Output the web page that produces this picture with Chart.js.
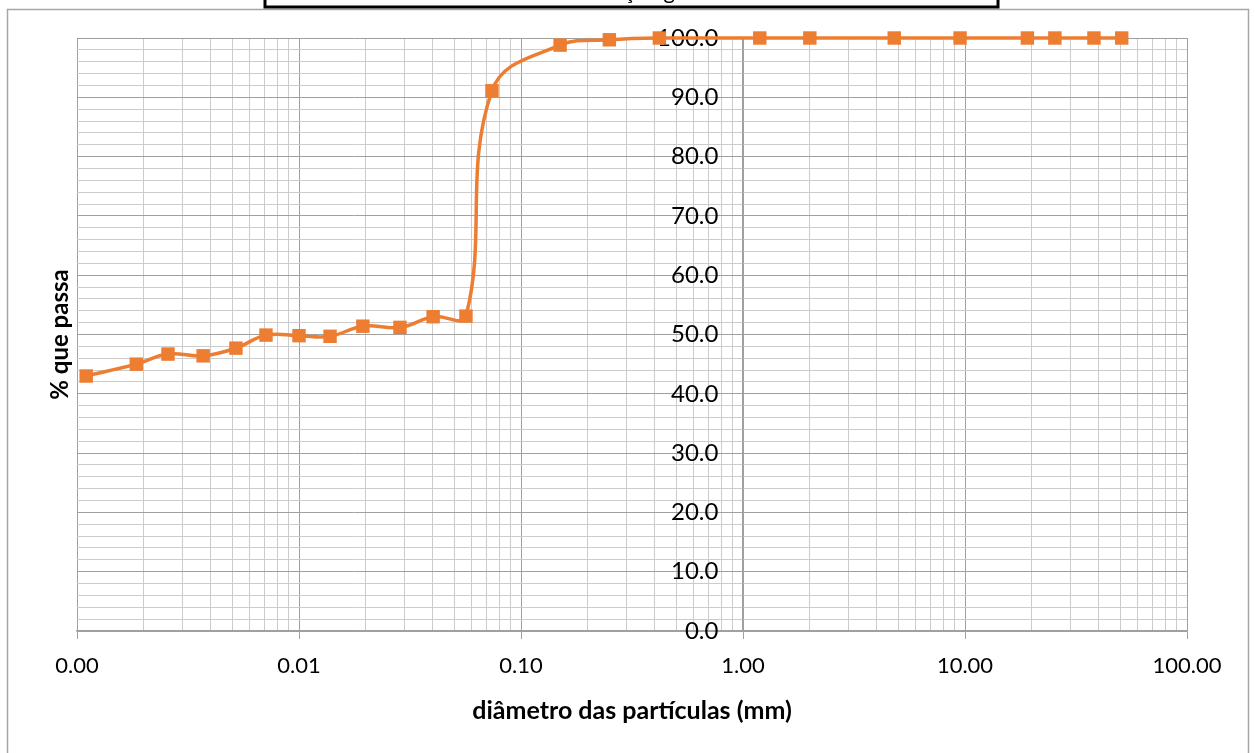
<!DOCTYPE html>
<html>
<head>
<meta charset="utf-8">
<script src="https://cdn.jsdelivr.net/npm/chart.js@4"></script>
<style>
  html, body { margin: 0; padding: 0; background: #fff; overflow: hidden; }
  #wrap { position: absolute; left: 0; top: -40px; width: 1255px; height: 793px; }
</style>
</head>
<body>
<div id="wrap"><canvas id="granChart"></canvas></div>
<script>
// diâmetros (mm) e % que passa
const diametros = [0.0011, 0.00185, 0.00257, 0.0037, 0.0052, 0.0071, 0.0100, 0.0138, 0.0194, 0.0285, 0.0402, 0.0565,
  0.074, 0.15, 0.25, 0.42, 1.19, 2.0, 4.8, 9.5, 19.1, 25.4, 38.1, 50.8];
const passa = [43.0, 45.0, 46.7, 46.4, 47.7, 49.9, 49.8, 49.7, 51.4, 51.2, 53.0, 53.1,
  91.1, 98.8, 99.7, 100, 100, 100, 100, 100, 100, 100, 100, 100];
const decadas = [0.001, 0.01, 0.1, 1, 10, 100];

const tituloGrafico = 'Curva de distribuição granulométrica';
const tituloX = 'diâmetro das partículas (mm)';
const tituloY = '% que passa';

function isDecade(v) {
  const l = Math.log10(v);
  return Math.abs(l - Math.round(l)) < 1e-9;
}

// outer border + title box (mostly cropped at the top)
const framePlugin = {
  id: 'frame',
  beforeDraw(chart) {
    const ctx = chart.ctx;
    ctx.save();
    ctx.strokeStyle = '#a6a6a6';
    ctx.lineWidth = 1.5;
    ctx.strokeRect(7.5, 49.5, 1241, 800);
    ctx.restore();
  },
  afterDraw(chart) {
    const ctx = chart.ctx;
    ctx.save();
    ctx.fillStyle = '#fff';
    ctx.fillRect(265, 5, 733, 42);
    ctx.strokeStyle = '#000';
    ctx.lineWidth = 3;
    ctx.strokeRect(265, 5, 733, 42);
    ctx.fillStyle = '#000';
    ctx.font = '22px Lato';
    ctx.textAlign = 'center';
    ctx.textBaseline = 'alphabetic';
    ctx.fillText(tituloGrafico, 631, 39);
    ctx.restore();
  }
};

const ctx = document.getElementById('granChart').getContext('2d');
const granChart = new Chart(ctx, {
  type: 'line',
  data: {
    datasets: [{
      label: '% que passa',
      data: diametros.map((d, i) => ({ x: d, y: passa[i] })),
      borderColor: '#ED7D31',
      backgroundColor: '#ED7D31',
      borderWidth: 3.5,
      pointStyle: 'rect',
      pointRadius: 9.5,
      pointHoverRadius: 9.5,
      pointBorderWidth: 0,
      tension: 0.4,
      clip: false
    }]
  },
  options: {
    responsive: true,
    maintainAspectRatio: false,
    animation: false,
    layout: { padding: { left: 0, right: 68, top: 78, bottom: 0 } },
    plugins: {
      legend: { display: false },
      tooltip: { enabled: false }
    },
    scales: {
      x: {
        type: 'logarithmic',
        position: 'bottom',
        min: 0.001,
        max: 100,
        afterBuildTicks(scale) {
          const vals = [];
          decadas.forEach(d => {
            for (let k = 1; k <= 9; k++) {
              const v = +(d * k).toPrecision(6);
              if (v <= 100) vals.push({ value: v });
            }
          });
          scale.ticks = vals;
        },
        afterFit(scale) { scale.height = 122; },
        grid: {
          color: c => (c.tick && isDecade(c.tick.value)) ? '#a0a0a0' : '#cccccc',
          lineWidth: 1,
          tickLength: 8,
          tickColor: c => (c.tick && isDecade(c.tick.value)) ? '#a0a0a0' : 'rgba(0,0,0,0)'
        },
        border: { color: '#a0a0a0', width: 1.5 },
        ticks: {
          autoSkip: false,
          maxRotation: 0,
          padding: 14,
          color: '#000',
          font: { family: 'Lato', size: 22 },
          callback: v => isDecade(v) ? v.toFixed(2) : ''
        },
        title: {
          display: true,
          text: tituloX,
          color: '#000',
          font: { family: 'Lato', size: 25, weight: 'bold' },
          padding: { top: 0, bottom: 27 }
        }
      },
      y: {
        type: 'linear',
        position: { x: 1 },
        min: 0,
        max: 100,
        grid: {
          color: c => (c.tick && c.tick.value % 10 === 0) ? '#a0a0a0' : '#cccccc',
          lineWidth: 1,
          tickLength: 8,
          tickColor: c => (c.tick && c.tick.value % 10 === 0) ? '#a0a0a0' : 'rgba(0,0,0,0)'
        },
        border: { color: '#a0a0a0', width: 1.5 },
        ticks: {
          stepSize: 2,
          autoSkip: false,
          color: '#000',
          font: { family: 'Lato', size: 24 },
          // labels sit left of the axis line; trailing spaces give the gap
          callback: v => v % 10 === 0 ? v.toFixed(1) + '    ' : ''
        }
      },
      yt: {
        type: 'linear',
        position: 'left',
        min: 0,
        max: 100,
        afterFit(scale) { scale.width = 77; },
        grid: { display: false },
        border: { display: false },
        ticks: { display: false },
        title: {
          display: true,
          text: tituloY,
          color: '#000',
          font: { family: 'Lato', size: 24, weight: 'bold' },
          padding: { top: 46, bottom: 0 }
        }
      }
    }
  },
  plugins: [framePlugin]
});
</script>
</body>
</html>
